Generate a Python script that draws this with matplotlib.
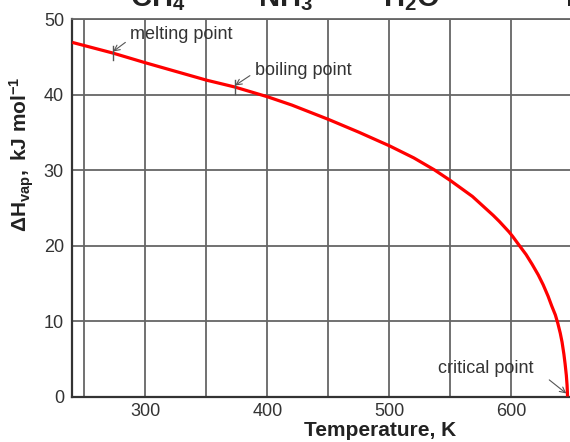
import matplotlib
matplotlib.use('Agg')
import matplotlib.pyplot as plt

plt.rcParams['font.family'] = ['Liberation Sans', 'DejaVu Sans']
plt.rcParams['mathtext.fontset'] = 'custom'
plt.rcParams['mathtext.rm'] = 'Liberation Sans'
plt.rcParams['mathtext.it'] = 'Liberation Sans:italic'
plt.rcParams['mathtext.bf'] = 'Liberation Sans:bold'

# enthalpy of vaporisation of water
temps = [240, 273, 300, 350, 373, 400, 420, 450, 475, 500, 520, 537, 550,
         568, 585, 590, 594, 598, 601, 606, 612, 617, 622, 626, 630, 633,
         636, 638, 640, 641.5, 643, 644, 645, 645.6, 646]
dh_vap = [46.9, 45.5, 44.2, 41.9, 41.0, 39.7, 38.6, 36.7, 35.0, 33.2, 31.6,
          30.0, 28.6, 26.5, 24.0, 23.2, 22.5, 21.8, 21.2, 20.1, 18.8, 17.5,
          16.1, 14.8, 13.3, 12.0, 10.8, 9.7, 8.4, 7.2, 5.6, 4.3, 2.8, 1.5, 0.0]

x_ticks = [300, 400, 500, 600]
x_grid = [250, 300, 350, 400, 450, 500, 550, 600, 650]
y_ticks = [0, 10, 20, 30, 40, 50]

marks = [(273, 45.5, 'melting point'), (373, 41.0, 'boiling point')]
critical = (646, 0.0)
top_labels = ['CH_4', 'NH_3', 'H_2O', 'HF']
top_left_px = [130, 258, 383, 565]

W, H = 570, 442
fig = plt.figure(figsize=(W / 100, H / 100), dpi=100)
ax = fig.add_axes([72.3 / W, 1 - 396.5 / H, (570 - 72.3) / W, (396.5 - 19) / H])

ax.set_xlim(240, 648)
ax.set_ylim(0, 50)

grid_col = '#666666'
for gx in x_grid:
    ax.axvline(gx, color=grid_col, lw=1.3, zorder=1)
for gy in y_ticks[1:]:
    ax.axhline(gy, color=grid_col, lw=1.3, zorder=1)

ax.plot(temps, dh_vap, color='#ff0000', lw=2.3, zorder=3,
        solid_capstyle='butt', solid_joinstyle='round')

txt_col = '#333333'
arr = dict(arrowstyle='->', color='#555555', lw=0.8, shrinkA=0, shrinkB=0)
# melting / boiling point marks with little arrows
offs = [((287.3, 47.9), (283.5, 46.9)), ((389.8, 43.2), (385.6, 42.5))]
for (t, h, lab), (tpos, apos) in zip(marks, offs):
    ax.plot([t, t], [h - 0.9, h + 0.9], color='#555555', lw=1.0, zorder=4)
    ax.text(tpos[0], tpos[1], lab, fontsize=13, color=txt_col, ha='left', va='center')
    ax.annotate('', xy=(t + 0.5, h + 0.2), xytext=apos, arrowprops=arr)

ax.text(539.5, 3.7, 'critical point', fontsize=13, color=txt_col, ha='left', va='center')
ax.annotate('', xy=(critical[0] - 1, critical[1] + 0.4), xytext=(631, 2.2), arrowprops=arr)

ax.set_xticks(x_ticks)
ax.set_yticks(y_ticks)
ax.tick_params(length=0, labelsize=13, labelcolor=txt_col, pad=5)
ax.tick_params(axis='y', pad=6)

for s in ['left', 'bottom']:
    ax.spines[s].set_color('#333333')
    ax.spines[s].set_linewidth(1.6)
ax.spines['top'].set_color(grid_col)
ax.spines['top'].set_linewidth(1.3)
ax.spines['right'].set_visible(False)

fig.text(380 / W, 1 - 430 / H, 'Temperature, K', fontsize=15, fontweight='bold',
         color='#222222', ha='center', va='center')
fig.text(22 / W, 1 - 154 / H, r'$\mathbf{\Delta H_{vap},\ kJ\ mol^{-1}}$', fontsize=15,
         color='#222222', ha='center', va='center', rotation=90)

# formula headings cut off by the top edge, as in the original
for lab, px in zip(top_labels, top_left_px):
    fig.text(px / W, 1 - 6 / H, r'$\mathbf{' + lab + '}$', fontsize=21,
             color='#222222', ha='left', va='baseline')

fig.savefig('out.png', dpi=100)
